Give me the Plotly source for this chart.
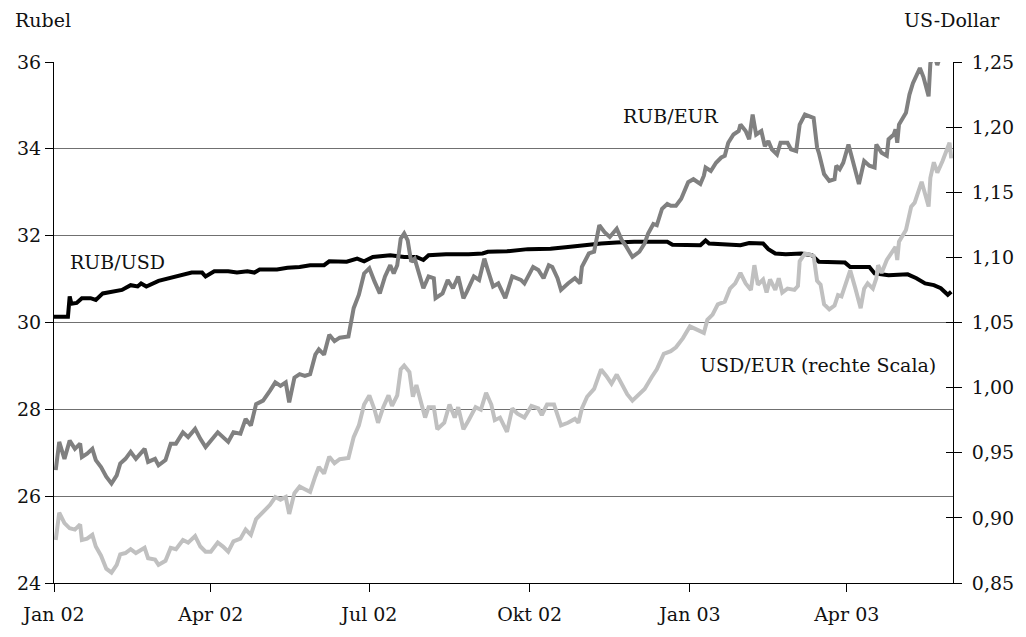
import plotly.graph_objects as go

# ---------------- data ----------------
rub_usd_dates = ["2002-01-01","2002-01-09","2002-01-10","2002-01-11","2002-01-14","2002-01-17","2002-01-22","2002-01-25",
    "2002-01-29","2002-02-03","2002-02-09","2002-02-14","2002-02-18","2002-02-20","2002-02-23","2002-03-02","2002-03-09",
    "2002-03-15","2002-03-21","2002-03-27","2002-03-29","2002-04-03","2002-04-11","2002-04-16","2002-04-22","2002-04-26",
    "2002-04-29","2002-05-09","2002-05-15","2002-05-22","2002-05-28","2002-06-05","2002-06-08","2002-06-18","2002-06-24",
    "2002-06-28","2002-07-03","2002-07-13","2002-07-21","2002-07-28","2002-08-01","2002-08-04","2002-08-14","2002-08-27",
    "2002-09-04","2002-09-07","2002-09-18","2002-09-30","2002-10-13","2002-10-23","2002-11-01","2002-11-11","2002-11-20",
    "2002-11-30","2002-12-19","2002-12-22","2003-01-07","2003-01-10","2003-01-12","2003-01-30","2003-02-04","2003-02-12",
    "2003-02-15","2003-02-19","2003-02-25","2003-03-06","2003-03-12","2003-03-16","2003-03-31","2003-04-03","2003-04-14",
    "2003-04-17","2003-04-25","2003-05-06","2003-05-11","2003-05-16","2003-05-21","2003-05-25","2003-05-29","2003-05-31"]
rub_usd = [30.13,30.13,30.60,30.43,30.45,30.56,30.56,30.52,
    30.67,30.71,30.75,30.86,30.83,30.90,30.83,30.96,31.03,
    31.09,31.15,31.15,31.06,31.18,31.18,31.15,31.18,31.15,
    31.22,31.22,31.26,31.28,31.32,31.32,31.41,31.40,31.47,
    31.41,31.51,31.55,31.51,31.51,31.44,31.55,31.57,31.57,
    31.59,31.63,31.64,31.69,31.70,31.74,31.78,31.82,31.84,
    31.86,31.86,31.79,31.78,31.89,31.82,31.78,31.83,31.82,
    31.69,31.59,31.57,31.59,31.55,31.40,31.38,31.28,31.28,
    31.13,31.09,31.11,31.02,30.90,30.86,30.79,30.64,30.71]

rub_eur_dates = ["2002-01-02","2002-01-04","2002-01-07","2002-01-10","2002-01-13","2002-01-16","2002-01-17","2002-01-20",
    "2002-01-23","2002-01-25","2002-01-28","2002-01-31","2002-02-03","2002-02-06","2002-02-08","2002-02-11","2002-02-14",
    "2002-02-17","2002-02-22","2002-02-24","2002-02-28","2002-03-02","2002-03-06","2002-03-09","2002-03-12","2002-03-16",
    "2002-03-19","2002-03-23","2002-03-26","2002-03-29","2002-04-05","2002-04-08","2002-04-11","2002-04-14","2002-04-18",
    "2002-04-21","2002-04-24","2002-04-27","2002-05-01","2002-05-05","2002-05-08","2002-05-11","2002-05-14","2002-05-16",
    "2002-05-19","2002-05-22","2002-05-25","2002-05-28","2002-05-31","2002-06-02","2002-06-05","2002-06-08","2002-06-11",
    "2002-06-14","2002-06-19","2002-06-22","2002-06-25","2002-06-28","2002-07-01","2002-07-04","2002-07-07","2002-07-10",
    "2002-07-13","2002-07-15","2002-07-17","2002-07-19","2002-07-21","2002-07-23","2002-07-25","2002-07-27","2002-07-30",
    "2002-08-01","2002-08-04","2002-08-07","2002-08-08","2002-08-12","2002-08-15","2002-08-18","2002-08-21","2002-08-24",
    "2002-08-26","2002-08-30","2002-09-02","2002-09-05","2002-09-07","2002-09-10","2002-09-13","2002-09-17","2002-09-21",
    "2002-09-26","2002-09-28","2002-10-03","2002-10-06","2002-10-09","2002-10-12","2002-10-14","2002-10-17","2002-10-19",
    "2002-10-23","2002-10-27","2002-10-30","2002-10-31","2002-11-04","2002-11-07","2002-11-10","2002-11-13","2002-11-16",
    "2002-11-20","2002-11-23","2002-11-25","2002-11-29","2002-12-03","2002-12-06","2002-12-08","2002-12-11","2002-12-13",
    "2002-12-16","2002-12-19","2002-12-21","2002-12-24","2002-12-27","2002-12-31","2003-01-03","2003-01-07","2003-01-09",
    "2003-01-10","2003-01-13","2003-01-16","2003-01-19","2003-01-21","2003-01-23","2003-01-26","2003-01-29","2003-01-30",
    "2003-02-02","2003-02-03","2003-02-04","2003-02-06","2003-02-08","2003-02-11","2003-02-13","2003-02-15","2003-02-17",
    "2003-02-20","2003-02-22","2003-02-26","2003-02-28","2003-03-03","2003-03-05","2003-03-08","2003-03-13","2003-03-15",
    "2003-03-16","2003-03-19","2003-03-22","2003-03-25","2003-03-26","2003-03-28","2003-03-30","2003-04-02","2003-04-05",
    "2003-04-08","2003-04-11","2003-04-14","2003-04-17","2003-04-18","2003-04-21","2003-04-24","2003-04-25","2003-04-28",
    "2003-04-29","2003-04-30","2003-05-01","2003-05-05","2003-05-07","2003-05-09","2003-05-13","2003-05-15","2003-05-18",
    "2003-05-19","2003-05-21","2003-05-23","2003-05-26","2003-05-29","2003-05-31"]
rub_eur = [26.60,27.25,26.86,27.28,27.09,27.21,26.90,26.98,
    27.09,26.83,26.67,26.45,26.29,26.48,26.75,26.86,27.02,
    26.86,27.09,26.79,26.86,26.71,26.83,27.21,27.21,27.47,
    27.36,27.55,27.32,27.13,27.47,27.36,27.25,27.47,27.44,
    27.78,27.63,28.12,28.20,28.43,28.62,28.54,28.62,28.16,
    28.73,28.81,28.77,28.81,29.26,29.38,29.26,29.72,29.57,
    29.65,29.68,30.33,30.64,31.13,31.25,30.94,30.67,31.06,
    31.32,31.13,31.32,31.93,32.05,31.89,31.40,31.47,31.09,
    30.79,31.06,31.02,30.56,30.67,30.98,30.79,31.06,30.56,
    30.71,31.06,30.98,31.47,31.21,30.83,30.90,30.56,31.06,
    30.98,30.90,31.28,31.21,31.02,31.32,31.28,31.02,30.75,
    30.90,31.02,30.90,31.28,31.59,31.63,32.24,32.08,31.97,
    32.16,31.89,31.78,31.51,31.63,31.82,32.05,32.27,32.24,
    32.62,32.73,32.69,32.69,32.85,33.23,33.30,33.19,33.38,
    33.57,33.49,33.68,33.80,33.84,34.14,34.33,34.41,34.56,
    34.41,34.33,34.22,34.79,34.33,34.41,34.06,34.18,33.99,
    33.87,34.14,34.14,33.99,33.95,34.56,34.79,34.71,34.03,
    33.91,33.42,33.26,33.30,33.61,33.53,33.68,34.10,33.68,
    33.19,33.72,33.61,33.57,34.10,33.91,33.84,34.22,34.33,
    34.45,34.14,34.56,34.83,35.25,35.51,35.86,35.66,35.21,
    35.97,36.20,35.93,36.30,36.50,36.40]

usd_eur_dates = ["2002-01-02","2002-01-04","2002-01-07","2002-01-10","2002-01-13","2002-01-16","2002-01-17","2002-01-20",
    "2002-01-23","2002-01-25","2002-01-28","2002-01-31","2002-02-03","2002-02-06","2002-02-08","2002-02-11","2002-02-14",
    "2002-02-17","2002-02-22","2002-02-24","2002-02-28","2002-03-02","2002-03-06","2002-03-09","2002-03-12","2002-03-16",
    "2002-03-19","2002-03-23","2002-03-26","2002-03-29","2002-04-01","2002-04-05","2002-04-08","2002-04-11","2002-04-14",
    "2002-04-18","2002-04-21","2002-04-24","2002-04-27","2002-05-01","2002-05-05","2002-05-08","2002-05-11","2002-05-14",
    "2002-05-16","2002-05-19","2002-05-22","2002-05-25","2002-05-28","2002-05-31","2002-06-02","2002-06-05","2002-06-08",
    "2002-06-11","2002-06-14","2002-06-19","2002-06-22","2002-06-25","2002-06-28","2002-07-01","2002-07-04","2002-07-06",
    "2002-07-09","2002-07-12","2002-07-14","2002-07-17","2002-07-19","2002-07-21","2002-07-24","2002-07-26","2002-07-28",
    "2002-07-31","2002-08-02","2002-08-04","2002-08-07","2002-08-09","2002-08-13","2002-08-16","2002-08-19","2002-08-21",
    "2002-08-24","2002-08-27","2002-08-31","2002-09-03","2002-09-06","2002-09-09","2002-09-11","2002-09-14","2002-09-18",
    "2002-09-21","2002-09-24","2002-09-28","2002-10-02","2002-10-06","2002-10-08","2002-10-11","2002-10-15","2002-10-19",
    "2002-10-23","2002-10-27","2002-10-29","2002-10-31","2002-11-03","2002-11-07","2002-11-11","2002-11-14","2002-11-17",
    "2002-11-20","2002-11-23","2002-11-26","2002-11-29","2002-12-02","2002-12-06","2002-12-10","2002-12-13","2002-12-17",
    "2002-12-21","2002-12-24","2002-12-28","2003-01-01","2003-01-04","2003-01-09","2003-01-11","2003-01-14","2003-01-17",
    "2003-01-21","2003-01-24","2003-01-27","2003-01-30","2003-02-02","2003-02-05","2003-02-07","2003-02-09","2003-02-12",
    "2003-02-14","2003-02-16","2003-02-19","2003-02-21","2003-02-23","2003-02-26","2003-03-02","2003-03-04","2003-03-05",
    "2003-03-08","2003-03-11","2003-03-13","2003-03-15","2003-03-17","2003-03-19","2003-03-22","2003-03-25","2003-03-27",
    "2003-03-29","2003-03-31","2003-04-03","2003-04-06","2003-04-09","2003-04-11","2003-04-13","2003-04-16","2003-04-18",
    "2003-04-19","2003-04-21","2003-04-24","2003-04-27","2003-04-29","2003-04-30","2003-05-01","2003-05-05","2003-05-08",
    "2003-05-10","2003-05-14","2003-05-18","2003-05-19","2003-05-21","2003-05-23","2003-05-26","2003-05-29","2003-05-30",
    "2003-05-31"]
usd_eur = [0.883,0.904,0.896,0.892,0.891,0.895,0.883,0.884,
    0.887,0.878,0.871,0.861,0.858,0.864,0.872,0.873,0.876,
    0.873,0.877,0.869,0.868,0.864,0.867,0.877,0.876,0.883,
    0.881,0.886,0.878,0.874,0.874,0.881,0.878,0.874,0.882,
    0.884,0.891,0.887,0.899,0.904,0.910,0.916,0.914,0.916,
    0.903,0.919,0.924,0.922,0.920,0.932,0.939,0.934,0.947,
    0.942,0.945,0.946,0.962,0.971,0.987,0.994,0.983,0.973,
    0.985,0.994,0.986,0.994,1.014,1.017,1.012,0.993,1.002,
    0.987,0.977,0.985,0.985,0.968,0.973,0.987,0.977,0.985,
    0.968,0.975,0.985,0.983,0.996,0.987,0.975,0.977,0.966,
    0.984,0.980,0.977,0.986,0.984,0.979,0.987,0.987,0.971,
    0.973,0.976,0.973,0.984,0.993,0.999,1.014,1.009,1.003,
    1.010,1.002,0.995,0.990,0.994,0.999,1.008,1.014,1.026,
    1.028,1.031,1.038,1.047,1.045,1.042,1.052,1.056,1.064,
    1.066,1.076,1.080,1.088,1.080,1.075,1.094,1.079,1.083,
    1.073,1.083,1.075,1.084,1.073,1.076,1.075,1.078,1.097,
    1.103,1.102,1.101,1.082,1.079,1.064,1.060,1.063,1.071,
    1.070,1.078,1.090,1.076,1.061,1.076,1.080,1.076,1.084,
    1.094,1.088,1.098,1.104,1.108,1.098,1.112,1.121,1.139,
    1.142,1.158,1.139,1.161,1.173,1.165,1.174,1.184,1.188,
    1.176]

left_ticks = [24, 26, 28, 30, 32, 34, 36]
right_ticks = [0.85, 0.90, 0.95, 1.00, 1.05, 1.10, 1.15, 1.20, 1.25]
x_tick_dates = ["2002-01-01", "2002-04-01", "2002-07-01", "2002-10-01", "2003-01-01", "2003-04-01"]
x_tick_labels = ["Jan 02", "Apr 02", "Jul 02", "Okt 02", "Jan 03", "Apr 03"]

# ---------------- figure ----------------
FONT = "DejaVu Serif"
FS = 19
fig = go.Figure()
fig.add_trace(go.Scatter(x=usd_eur_dates, y=usd_eur, yaxis="y2", mode="lines",
                         line=dict(color="#c0c0c0", width=4), name="USD/EUR"))
fig.add_trace(go.Scatter(x=rub_usd_dates, y=rub_usd, mode="lines",
                         line=dict(color="#000000", width=4), name="RUB/USD"))
fig.add_trace(go.Scatter(x=rub_eur_dates, y=rub_eur, mode="lines",
                         line=dict(color="#808080", width=4), name="RUB/EUR"))
# helper trace so the inner right tick axis is drawn
fig.add_trace(go.Scatter(x=[x_tick_dates[0]], y=[right_ticks[0]], yaxis="y3", mode="markers",
                         marker=dict(opacity=0), hoverinfo="skip", showlegend=False))

fig.update_layout(
    width=1026, height=637,
    margin=dict(l=54, r=63, t=62, b=50),
    paper_bgcolor="white", plot_bgcolor="white",
    showlegend=False,
    separators=",.",
    font=dict(family=FONT, size=FS, color="#111111"),
    xaxis=dict(type="date", range=["2002-01-01", "2003-06-01"],
               tickvals=x_tick_dates, ticktext=x_tick_labels,
               ticks="outside", ticklen=8, tickcolor="black", ticklabelstandoff=6,
               showline=True, linecolor="black", linewidth=1,
               showgrid=False, zeroline=False, tickfont=dict(size=FS)),
    yaxis=dict(range=[24, 36], tickvals=left_ticks, ticks="outside", ticklen=8,
               tickcolor="black", showline=True, linecolor="black", linewidth=1,
               showgrid=True, gridcolor="#707070", gridwidth=1, zeroline=False,
               tickfont=dict(size=FS)),
    yaxis2=dict(range=[0.85, 1.25], tickvals=right_ticks, tickformat=".2f",
                overlaying="y", side="right", anchor="x",
                ticks="outside", ticklen=8, tickcolor="black", ticklabelstandoff=6,
                showline=True, linecolor="black", linewidth=1,
                showgrid=False, zeroline=False, tickfont=dict(size=FS)),
    yaxis3=dict(range=[0.85, 1.25], tickvals=right_ticks, overlaying="y", side="right",
                anchor="x", ticks="inside", ticklen=7, tickcolor="black",
                showticklabels=False, showline=False, showgrid=False, zeroline=False),
)

fig.add_annotation(text="Rubel", xref="paper", yref="paper", x=-0.046, y=1.08,
                   xanchor="left", yanchor="middle", showarrow=False, font=dict(size=FS))
fig.add_annotation(text="US-Dollar", xref="paper", yref="paper", x=1.054, y=1.08,
                   xanchor="right", yanchor="middle", showarrow=False, font=dict(size=FS))
fig.add_annotation(text="RUB/USD", xref="paper", yref="paper", x=0.0154, y=0.617,
                   xanchor="left", yanchor="middle", showarrow=False, font=dict(size=FS))
fig.add_annotation(text="RUB/EUR", xref="paper", yref="paper", x=0.6306, y=0.897,
                   xanchor="left", yanchor="middle", showarrow=False, font=dict(size=FS))
fig.add_annotation(text="USD/EUR (rechte Scala)", xref="paper", yref="paper", x=0.983, y=0.419,
                   xanchor="right", yanchor="middle", showarrow=False, font=dict(size=FS))

fig.write_html("out.html", config={"displayModeBar": False},
               post_script="document.body.style.margin='0';document.body.style.overflow='hidden';")
